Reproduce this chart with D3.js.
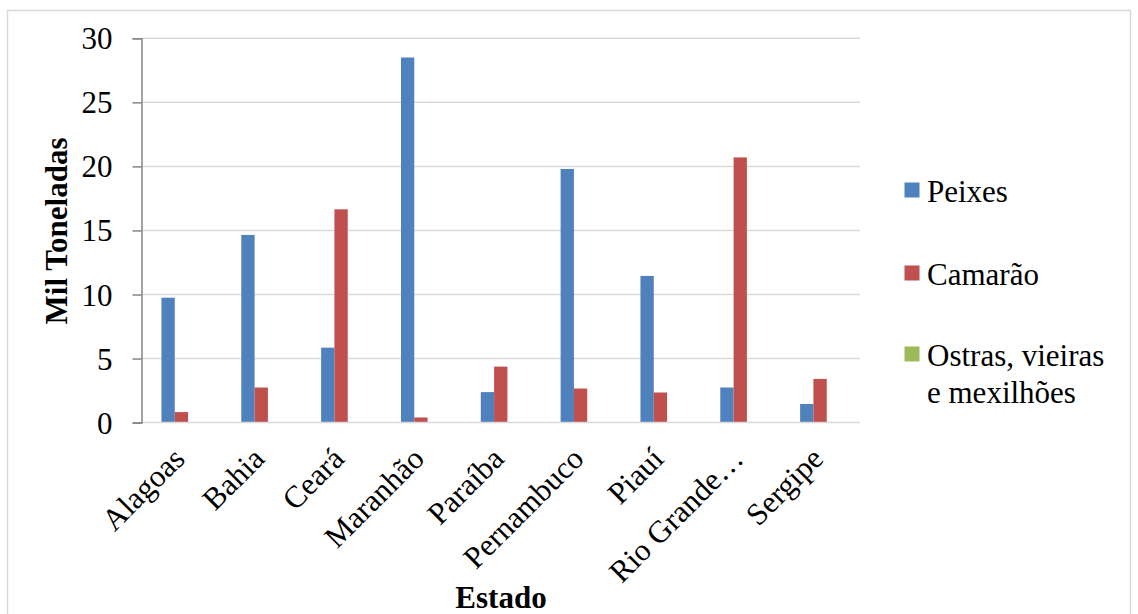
<!DOCTYPE html>
<html>
<head>
<meta charset="utf-8">
<script src="https://cdn.jsdelivr.net/npm/d3@7/dist/d3.min.js"></script>
<style>
html,body{margin:0;padding:0;background:#fff;}
svg{display:block;}
</style>
</head>
<body>
<svg id="chart" width="1138" height="614"></svg>
<script>
const categories = ["Alagoas","Bahia","Ceará","Maranhão","Paraíba","Pernambuco","Piauí","Rio Grande…","Sergipe"];
const seriesNames = ["Peixes","Camarão","Ostras, vieiras e mexilhões"];
const peixes  = [9.75, 14.65, 5.85, 28.5, 2.38, 19.8, 11.45, 2.74, 1.45];
const camarao = [0.82, 2.74, 16.65, 0.4, 4.37, 2.66, 2.35, 20.7, 3.41];
const ostras  = [0.03, 0.03, 0, 0, 0.02, 0, 0, 0, 0];
const yTicks = [0,5,10,15,20,25,30];
const colors = ["#4F81BD","#C0504D","#9BBB59"];

const FONT = "Liberation Serif";
const FS = 31;
const svg = d3.select("#chart");
const plotLeft = 141.5, plotRight = 860, plotTop = 38.3, plotBottom = 422.6;

// outer border
svg.append("rect").attr("x",7.5).attr("y",10.5).attr("width",1123).attr("height",612)
  .attr("fill","none").attr("stroke","#d9d9d9").attr("stroke-width",1.5);

const x0 = d3.scaleBand().domain(categories).range([plotLeft,plotRight]).paddingInner(0).paddingOuter(0);
const bw = x0.bandwidth();
const x1 = d3.scaleBand().domain(seriesNames).range([bw/4, bw*3/4]).padding(0);
const y = d3.scaleLinear().domain([0,30]).range([plotBottom,plotTop]);

// gridlines
svg.append("g").selectAll("line").data(yTicks.filter(d=>d>0)).join("line")
  .attr("x1",plotLeft).attr("x2",plotRight)
  .attr("y1",d=>y(d)).attr("y2",d=>y(d))
  .attr("stroke","#d9d9d9").attr("stroke-width",1.5);

// bars
const series = [peixes, camarao, ostras];
const gBars = svg.append("g");
series.forEach((vals,si)=>{
  gBars.selectAll(null).data(vals.map((v,i)=>({c:categories[i],v}))).join("rect")
    .attr("x",d=>x0(d.c)+x1(seriesNames[si]))
    .attr("width",x1.bandwidth())
    .attr("y",d=>y(d.v))
    .attr("height",d=>plotBottom-y(d.v))
    .attr("fill",colors[si]);
});

// x baseline
svg.append("line").attr("x1",plotLeft).attr("x2",plotRight).attr("y1",plotBottom).attr("y2",plotBottom)
  .attr("stroke","#d9d9d9").attr("stroke-width",1.5);

// y axis
const yAxis = d3.axisLeft(y).tickValues(yTicks).tickSize(9).tickPadding(20).tickFormat(d3.format("d"));
const gy = svg.append("g").attr("transform",`translate(${plotLeft},0)`).call(yAxis)
  .attr("font-family",FONT).attr("font-size",FS);
gy.select(".domain").attr("stroke","#868686").attr("stroke-width",1.5);
gy.selectAll(".tick line").attr("stroke","#868686").attr("stroke-width",1.5);
gy.selectAll(".tick text").attr("fill","#000").attr("dy","0.34em");

// x category labels
const xAxis = d3.axisBottom(x0).tickSize(0).tickPadding(0);
const gx = svg.append("g").attr("transform",`translate(0,${plotBottom})`).call(xAxis)
  .attr("font-family",FONT).attr("font-size",FS);
gx.select(".domain").remove();
gx.selectAll(".tick text")
  .attr("fill","#000")
  .attr("text-anchor","end").attr("y",0).attr("dy",0)
  .attr("transform","translate(5,38) rotate(-45)");

// axis titles
svg.append("text").attr("transform",`translate(67,231) rotate(-90)`)
  .attr("text-anchor","middle").attr("font-family",FONT).attr("font-size",FS).attr("font-weight","bold")
  .text("Mil Toneladas");
svg.append("text").attr("x",501).attr("y",608)
  .attr("text-anchor","middle").attr("font-family",FONT).attr("font-size",FS).attr("font-weight","bold")
  .text("Estado");

// legend
const legendItems = [
  {name:"Peixes", lines:["Peixes"], y:190},
  {name:"Camarão", lines:["Camarão"], y:273},
  {name:"Ostras, vieiras e mexilhões", lines:["Ostras, vieiras","e mexilhões"], y:354}
];
const gl = svg.append("g").attr("font-family",FONT).attr("font-size",FS);
legendItems.forEach((it,i)=>{
  gl.append("rect").attr("x",904.5).attr("y",it.y-7.5).attr("width",15).attr("height",15).attr("fill",colors[i]);
  const t = gl.append("text").attr("x",927).attr("y",it.y+12).attr("fill","#000");
  it.lines.forEach((ln,j)=>{
    t.append("tspan").attr("x",927).attr("dy",j===0?0:36.5).text(ln);
  });
});
</script>
</body>
</html>
